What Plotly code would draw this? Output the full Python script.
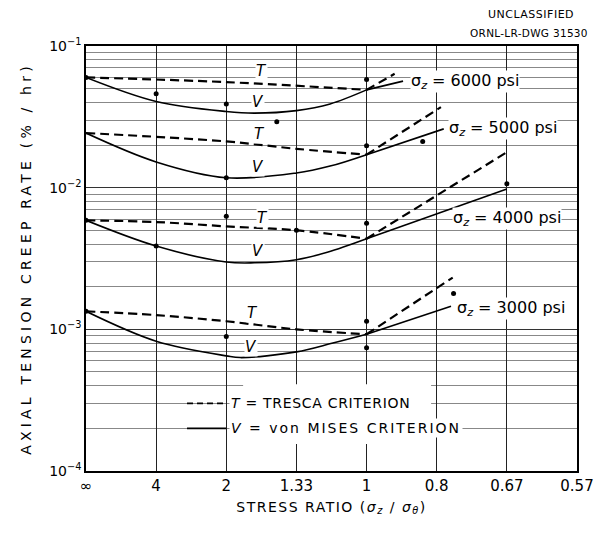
import math
import plotly.graph_objects as go

# Stress ratio axis: plotted linearly in sigma_theta/sigma_z, labelled as sigma_z/sigma_theta
tick_pos = [0, 0.25, 0.5, 0.75, 1.0, 1.25, 1.5, 1.75]
tick_labels = ["\u221e", "4", "2", "1.33", "1", "0.8", "0.67", "0.57"]

# Tresca (T) and von Mises (V) predictions, left branch (x <= 1) and right branch (x >= 1)
t6000_x = [0, 0.5, 1.0];            t6000_y = [0.060, 0.0556, 0.049]
t6000r_x = [1.0, 1.10];             t6000r_y = [0.049, 0.0637]
v6000_x = [0, 0.25, 0.5, 0.6, 0.75, 0.87, 1.0]
v6000_y = [0.060, 0.0406, 0.0345, 0.0336, 0.0350, 0.0390, 0.049]
v6000r_x = [1.0, 1.13];             v6000r_y = [0.049, 0.0565]

t5000_x = [0, 0.5, 0.75, 1.0];      t5000_y = [0.0243, 0.0212, 0.0188, 0.0171]
t5000r_x = [1.0, 1.265];            t5000r_y = [0.0171, 0.037]
v5000_x = [0, 0.25, 0.5, 0.75, 0.87, 1.0]
v5000_y = [0.0243, 0.0152, 0.01175, 0.0127, 0.0142, 0.0171]
v5000r_x = [1.0, 1.275];            v5000r_y = [0.0171, 0.026]

t4000_x = [0, 0.25, 0.5, 0.75, 1.0]; t4000_y = [0.00588, 0.00572, 0.00533, 0.0050, 0.00436]
t4000r_x = [1.0, 1.5];              t4000r_y = [0.00436, 0.0178]
v4000_x = [0, 0.25, 0.5, 0.6, 0.75, 0.86, 1.0]
v4000_y = [0.00588, 0.00387, 0.00299, 0.00295, 0.0031, 0.0035, 0.00436]
v4000r_x = [1.0, 1.5];              v4000r_y = [0.00436, 0.0098]

t3000_x = [0, 0.25, 0.5, 0.75, 1.0]; t3000_y = [0.00134, 0.00126, 0.00114, 0.00100, 0.000923]
t3000r_x = [1.0, 1.307];            t3000r_y = [0.000923, 0.00232]
v3000_x = [0, 0.25, 0.5, 0.55, 0.75, 0.88, 1.0]
v3000_y = [0.00134, 0.000824, 0.00065, 0.000632, 0.000693, 0.0008, 0.000923]
v3000r_x = [1.0, 1.301];            v3000r_y = [0.000923, 0.001455]

# Measured creep rates
pts_x = [0, 0.25, 0.5, 0.68, 1.0,
         0.5, 1.0, 1.2,
         0, 0.25, 0.5, 0.75, 1.0, 1.5,
         0, 0.5, 1.0, 1.0, 1.31]
pts_y = [0.060, 0.046, 0.039, 0.0292, 0.058,
         0.01175, 0.0198, 0.0212,
         0.00588, 0.00387, 0.00628, 0.0050, 0.0056, 0.01067,
         0.00134, 0.00089, 0.00114, 0.00074, 0.00179]

# Curve letters and stress labels
letter_text = ["T", "V", "T", "V", "T", "V", "T", "V"]
letter_x = [0.625, 0.614, 0.618, 0.614, 0.628, 0.614, 0.593, 0.589]
letter_y = [0.0671, 0.0405, 0.0241, 0.0141, 0.00607, 0.00356, 0.0013, 0.000748]

stress_text = ["6000", "5000", "4000", "3000"]
stress_x = [1.155, 1.289, 1.304, 1.319]
stress_y = [0.0565, 0.0262, 0.00604, 0.0014]

FONT = "DejaVu Sans"


def spaced(text, px):
    return f'<span style="letter-spacing:{px}px">{text}</span>'


fig = go.Figure()

dash_style = dict(color="black", width=2.2, dash="9px,5px")
solid_style = dict(color="black", width=1.6)

for xs, ys in [(t6000_x, t6000_y), (t5000_x, t5000_y), (t4000_x, t4000_y), (t3000_x, t3000_y)]:
    fig.add_trace(go.Scatter(x=xs, y=ys, mode="lines", line=dict(shape="spline", **dash_style)))
for xs, ys in [(t6000r_x, t6000r_y), (t5000r_x, t5000r_y), (t4000r_x, t4000r_y), (t3000r_x, t3000r_y)]:
    fig.add_trace(go.Scatter(x=xs, y=ys, mode="lines", line=dash_style))
for xs, ys in [(v6000_x, v6000_y), (v5000_x, v5000_y), (v4000_x, v4000_y), (v3000_x, v3000_y)]:
    fig.add_trace(go.Scatter(x=xs, y=ys, mode="lines", line=dict(shape="spline", **solid_style)))
for xs, ys in [(v6000r_x, v6000r_y), (v5000r_x, v5000r_y), (v4000r_x, v4000r_y), (v3000r_x, v3000r_y)]:
    fig.add_trace(go.Scatter(x=xs, y=ys, mode="lines", line=solid_style))

fig.add_trace(go.Scatter(x=pts_x, y=pts_y, mode="markers",
                         marker=dict(color="black", size=5)))

# annotation positions on a log axis are given as log10 of the value
for txt, x, y in zip(letter_text, letter_x, letter_y):
    fig.add_annotation(x=x, y=math.log10(y), text=f"<i>{txt}</i>", showarrow=False,
                       font=dict(family=FONT, size=15, color="black"),
                       bgcolor="white", borderpad=0)

for txt, x, y in zip(stress_text, stress_x, stress_y):
    fig.add_annotation(x=x, y=math.log10(y),
                       text=f"\u03c3<sub><i>z</i></sub> = {txt} psi", showarrow=False,
                       xanchor="left", font=dict(family=FONT, size=16, color="black"),
                       bgcolor="white", borderpad=0)

# Key to the line styles, written over a cleared patch of the grid
fig.add_shape(type="rect", xref="x", yref="y", x0=0.56, x1=1.23, y0=1.55e-4, y1=4.1e-4,
              fillcolor="white", line_width=0, layer="between")
fig.add_trace(go.Scatter(x=[0.36, 0.5], y=[3e-4, 3e-4], mode="lines",
                         line=dict(color="black", width=1.6, dash="6px,4px")))
fig.add_trace(go.Scatter(x=[0.36, 0.5], y=[2e-4, 2e-4], mode="lines",
                         line=dict(color="black", width=1.6)))
fig.add_annotation(x=0.51, y=math.log10(3e-4), text=spaced("<i>T</i> = TRESCA CRITERION", 0.7),
                   showarrow=False, xanchor="left",
                   font=dict(family=FONT, size=14, color="black"), bgcolor="white", borderpad=1)
fig.add_annotation(x=0.51, y=math.log10(2e-4), text=spaced("<i>V</i> = von MISES CRITERION", 2.0),
                   showarrow=False, xanchor="left",
                   font=dict(family=FONT, size=14, color="black"), bgcolor="white", borderpad=1)

# Drawing number block
fig.add_annotation(xref="paper", yref="paper", x=0.998, y=1.0, yshift=32, xanchor="right",
                   yanchor="middle", text=spaced("UNCLASSIFIED", 0.5), showarrow=False,
                   font=dict(family=FONT, size=11, color="black"))
fig.add_annotation(xref="paper", yref="paper", x=1.026, y=1.0, yshift=13, xanchor="right",
                   yanchor="middle", text=spaced("ORNL-LR-DWG 31530", 0.3), showarrow=False,
                   font=dict(family=FONT, size=10.5, color="black"))

minor_vals = [k * 10.0 ** e for e in (-4, -3, -2) for k in range(2, 10)]

fig.update_layout(
    width=611, height=533,
    margin=dict(l=86, r=34, t=46, b=62),
    paper_bgcolor="white", plot_bgcolor="white",
    showlegend=False,
    font=dict(family=FONT, color="black"),
    xaxis=dict(
        range=[0, 1.75], tickvals=tick_pos, ticktext=tick_labels,
        showgrid=True, gridcolor="#222", gridwidth=1,
        showline=True, linecolor="black", linewidth=1.5, mirror=True,
        ticks="", zeroline=False,
        tickfont=dict(family=FONT, size=15, color="black"),
        title=dict(text=spaced("STRESS RATIO (<i>\u03c3<sub>z</sub></i> / <i>\u03c3<sub>\u03b8</sub></i>)", 1.5),
                   font=dict(family=FONT, size=14, color="black"), standoff=8),
    ),
    yaxis=dict(
        type="log", range=[-4, -1],
        tickvals=[1e-4, 1e-3, 1e-2, 1e-1],
        ticktext=["10<sup>\u22124</sup>", "10<sup>\u22123</sup>", "10<sup>\u22122</sup>", "10<sup>\u22121</sup>"],
        showgrid=True, gridcolor="#333", gridwidth=1,
        minor=dict(tickvals=minor_vals, showgrid=True, gridcolor="#888", gridwidth=0.8, ticks=""),
        showline=True, linecolor="black", linewidth=1.5, mirror=True,
        ticks="", zeroline=False,
        tickfont=dict(family=FONT, size=14, color="black"),
        title=dict(text=spaced("AXIAL TENSION CREEP RATE (% / hr)", 4.2),
                   font=dict(family=FONT, size=14, color="black"), standoff=14),
    ),
)

fig.write_html("out.html")
